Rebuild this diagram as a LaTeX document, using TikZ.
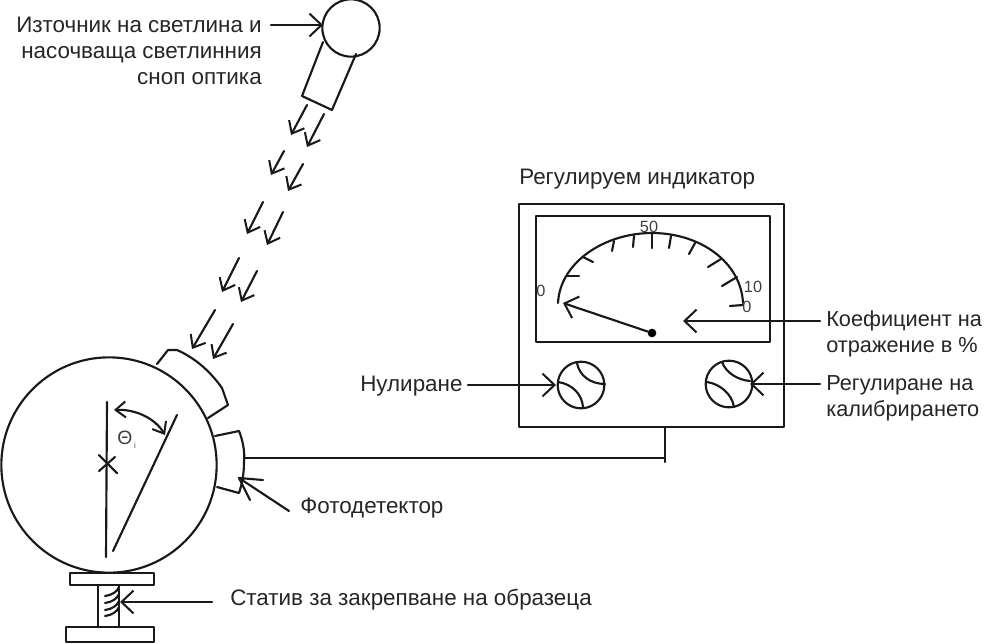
\documentclass[tikz,border=0pt]{standalone}
\usepackage{fontspec}
\setmainfont{Liberation Sans}
\usetikzlibrary{arrows.meta}
\tikzset{
  ln/.style={line width=1.6pt,color=black!90,line cap=round,line join=round},
  lbl/.style={inner sep=0pt,font=\fontsize{16.8pt}{19.5pt}\selectfont,text=black!85},
  lblr/.style={inner sep=0pt,font=\fontsize{16.3pt}{19.5pt}\selectfont,text=black!85},
  sml/.style={inner sep=0pt,font=\fontsize{12.2pt}{14pt}\selectfont,text=black!75},
  beam/.style={ln,-{Straight Barb[length=8pt,width=13pt,line width=1.5pt]}},
  bigarr/.style={ln,-{Straight Barb[length=9pt,width=17pt,line width=1.5pt]}},
}
\begin{document}
\begin{tikzpicture}[x=0.75pt,y=-0.75pt]
\useasboundingbox (0,0) rectangle (984,643);
\fill[white] (0,0) rectangle (984,643);
% labels
\node[lbl,anchor=north east,align=right] (src) at (262,17) {Източник на светлина и\\насочваща светлинния\\сноп оптика};
\node[lbl,anchor=west] (ind) at (519,179) {Регулируем индикатор};
\node[lblr,anchor=north west,align=left] (coef) at (826,310) {Коефициент на\\отражение в \%};
\node[lbl,anchor=west] (nul) at (360,386) {Нулиране};
\node[lblr,anchor=north west,align=left] (cal) at (826,375) {Регулиране на\\калибрирането};
\node[lbl,anchor=west] (ph) at (300,508) {Фотодетектор};
\node[lbl,anchor=west] (st) at (230,600) {Статив за закрепване на образеца};
% sphere
\node[ln,draw,circle,minimum size=161.5pt,inner sep=0pt] (sph) at (109,465) {};
% lamp
\node[ln,draw,circle,minimum size=43pt,inner sep=0pt] (lamp) at (351,28) {};
\draw[ln] (323,42) -- (302,96) -- (332,110) -- (356,54);
% beams
\foreach \a/\b/\c/\d in {307/105/291/135,324/114/307/147,284/151/271/175,303/164/288/191,263/202/247/234,283/212/267/245,239/258/222/292,257/271/241/302,215/310/192/349,233/324/213/359}
  \draw[beam] (\a,\b) -- (\c,\d);
% entrance port
\draw[ln] (157,364) -- (168,350) -- (177,350) .. controls (195,358) and (210,371) .. (222,388) -- (228,405) -- (208,418);
% detector
\draw[ln] (215,436) -- (239,431) .. controls (243,441) and (245,452) .. (244,462) .. controls (244,474) and (242,484) .. (239,493) -- (217,487);
% inner lines
\draw[ln] (107,402) -- (106,557);
\draw[ln] (177,415) -- (113,551);
\draw[ln] (99,455) -- (117,473);
\draw[ln] (115,457) -- (99,471);
\draw[ln,{Straight Barb[length=7.5pt,width=12pt,line width=1.5pt]}-{Straight Barb[length=7.5pt,width=12pt,line width=1.5pt]}] (114,410) .. controls (135,409) and (155,418) .. (165,435);
\node[inner sep=0pt,font=\fontsize{14.5pt}{16pt}\selectfont,text=black!75] (th) at (125,438) {Θ};
\node[inner sep=0pt,font=\fontsize{6pt}{7pt}\selectfont,text=black!70] (thi) at (135,446) {i};
% stand
\draw[ln] (70,573) rectangle (154,585);
\draw[ln] (66,627) rectangle (154,642);
\draw[ln] (98,585) -- (98,627);
\draw[ln] (119,585) -- (119,627);
\foreach \y in {596,603,610,616}
  \draw[ln] (105,\y) .. controls (112,\y-1) and (117,\y-4) .. (119,\y-9);
% meter
\draw[ln] (519,204) rectangle (784,427);
\draw[ln] (536,216) rectangle (770,342);
\node[circle,fill=black,minimum size=6.5pt,inner sep=0pt] (piv) at (652,333) {};
\coordinate (ntip) at (563,303);
\draw[bigarr] (piv) -- (ntip);
\draw[ln] (558,303) .. controls (560,262) and (605,233) .. (652,233) .. controls (700,233) and (741,262) .. (743,303);
\foreach \a/\b/\c/\d in {567/276/579/276,583/257/593/262,614/241/612/251,634/236/633/247,652/233/652/248,671/236/669/248,695/243/689/254,721/259/708/267,737/277/722/286,743/305/730/306}
  \draw[ln] (\a,\b) -- (\c,\d);
\node[sml] (n50) at (649,227) {50};
\node[sml] (n0l) at (541,291) {0};
\node[sml] (n10) at (753,287) {10};
\node[sml] (n0r) at (747,307) {0};
% knobs
\node[ln,draw,circle,minimum size=35pt,inner sep=0pt] (kl) at (581,385) {};
\node[ln,draw,circle,minimum size=35pt,inner sep=0pt] (kr) at (729,384) {};
\draw[ln] (577,363) .. controls (579,375) and (590,384) .. (605,384);
\draw[ln] (558,382) .. controls (572,384) and (582,394) .. (583,407);
\draw[ln] (722,362) .. controls (726,373) and (738,380) .. (750,381);
\draw[ln] (707,382) .. controls (720,384) and (732,394) .. (734,407);
% wire
\coordinate (wj) at (665,458);
\coordinate (wt) at (665,427);
\coordinate (wb) at (665,462);
\coordinate (dw) at (244,458);
\draw[ln] (dw) -- (wj);
\draw[ln] (wt) -- (wb);
% pointers
\coordinate (a1s) at (271,25); \coordinate (a1e) at (323,25);
\coordinate (a2s) at (820,321); \coordinate (a2e) at (683,321);
\coordinate (a3s) at (468,385); \coordinate (a3e) at (556,385);
\coordinate (a4s) at (820,384); \coordinate (a4e) at (750,384);
\coordinate (a5s) at (289,511); \coordinate (a5e) at (239,478);
\coordinate (a6s) at (212,602); \coordinate (a6e) at (120,602);
\draw[bigarr] (a1s) -- (a1e);
\draw[bigarr] (a2s) -- (a2e);
\draw[bigarr] (a3s) -- (a3e);
\draw[bigarr] (a4s) -- (a4e);
\draw[ln] (a5s) -- (a5e) -- (263,480);
\draw[ln] (a5e) -- (250,500);
\draw[bigarr] (a6s) -- (a6e);
\end{tikzpicture}
\end{document}
